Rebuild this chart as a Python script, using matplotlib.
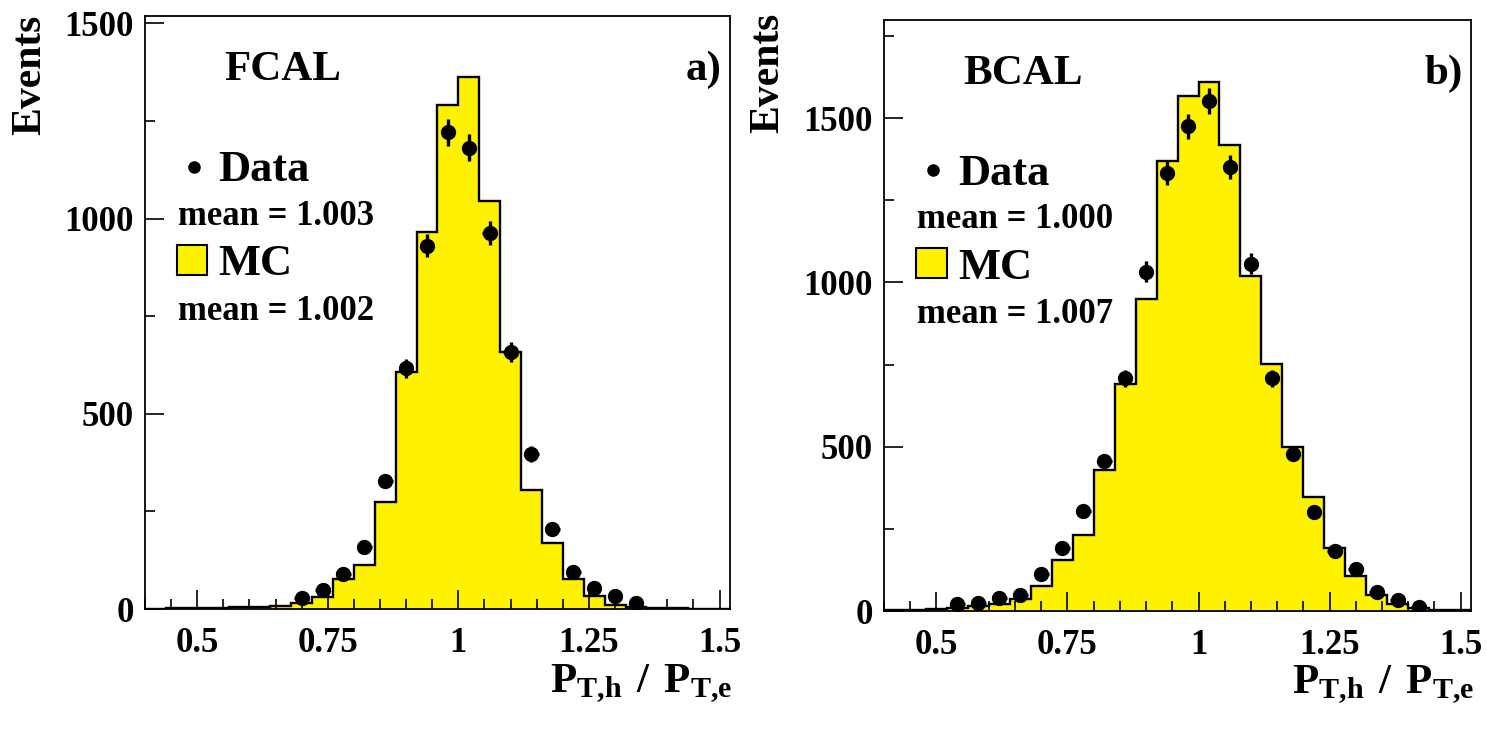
import numpy as np
import matplotlib
matplotlib.use('Agg')
import matplotlib.pyplot as plt
from matplotlib.patches import Rectangle
from matplotlib.ticker import MultipleLocator, FormatStrFormatter

plt.rcParams['font.family'] = 'Liberation Serif'
plt.rcParams['font.weight'] = 'bold'
plt.rcParams['mathtext.fontset'] = 'custom'
plt.rcParams['mathtext.bf'] = 'Liberation Serif:bold'
plt.rcParams['mathtext.rm'] = 'Liberation Serif:bold'

# binning: 28 bins of 0.04 from 0.40 to 1.52
bin_lo = 0.40
bin_w = 0.04
n_bins = 28

# FCAL (a)
fcal_mc = [1, 2, 2, 3, 4, 5, 8, 15, 31, 76, 113, 275, 607, 965,
           1290, 1362, 1045, 657, 305, 168, 78, 33, 10, 5, 3, 2, 1, 1]
fcal_data = [0, 0, 0, 0, 0, 0, 0, 28, 48, 90, 158, 328, 616, 931,
             1221, 1181, 963, 658, 397, 205, 95, 53, 33, 15, 0, 0, 0, 0]

# BCAL (b)
bcal_mc = [2, 4, 6, 10, 15, 22, 37, 77, 155, 230, 429, 692, 949, 1368,
           1567, 1610, 1418, 1019, 751, 499, 346, 193, 107, 48, 21, 8, 4, 2]
bcal_data = [0, 0, 0, 22, 25, 40, 48, 112, 193, 305, 455, 708, 1032, 1333,
             1475, 1551, 1352, 1057, 708, 477, 302, 182, 128, 58, 32, 12, 0, 0]

yellow = '#fff200'
edges = bin_lo + bin_w * np.arange(n_bins + 1)
centers = 0.5 * (edges[:-1] + edges[1:])

fig = plt.figure(figsize=(14.87, 7.32), dpi=100)
ax_a = fig.add_axes([0.0975, 0.168, 0.3934, 0.8108])
ax_b = fig.add_axes([0.5945, 0.1653, 0.3948, 0.808])


def panel(ax, mc, data, ymax, name, tag, mean_d, mean_mc):
    mc = np.array(mc, dtype=float)
    data = np.array(data, dtype=float)
    ax.stairs(mc, edges, fill=True, color=yellow, zorder=1)
    ax.stairs(mc, edges, color='black', lw=1.7, zorder=2)
    m = data > 0
    ax.errorbar(centers[m], data[m], yerr=np.sqrt(data[m]), xerr=0.014,
                fmt='o', ms=10, color='black', elinewidth=2.4, capsize=0, zorder=3)

    ax.set_xlim(0.40, 1.52)
    ax.set_ylim(0, ymax)
    ax.xaxis.set_major_locator(MultipleLocator(0.25))
    ax.xaxis.set_minor_locator(MultipleLocator(0.05))
    ax.xaxis.set_major_formatter(FormatStrFormatter('%g'))
    ax.yaxis.set_major_locator(MultipleLocator(500))
    ax.yaxis.set_minor_locator(MultipleLocator(250))
    ax.tick_params(which='both', direction='in', top=False, right=False, width=1.2)
    ax.tick_params(which='major', length=14, labelsize=25)
    ax.tick_params(which='minor', length=7)
    ax.tick_params(axis='x', which='major', pad=13)
    ax.tick_params(axis='y', which='major', pad=8)
    for s in ax.spines.values():
        s.set_linewidth(1.3)

    ax.text(0.135, 0.891, name, transform=ax.transAxes, fontsize=31)
    ax.text(0.985, 0.891, tag, transform=ax.transAxes, fontsize=31, ha='right')
    ax.plot([0.083], [0.745], 'o', color='black', ms=8, transform=ax.transAxes)
    ax.text(0.126, 0.721, 'Data', transform=ax.transAxes, fontsize=32)
    ax.text(0.057, 0.647, 'mean = ' + mean_d, transform=ax.transAxes, fontsize=25)
    ax.add_patch(Rectangle((0.0547, 0.563), 0.052, 0.05, transform=ax.transAxes,
                           facecolor=yellow, edgecolor='black', lw=1.5))
    ax.text(0.126, 0.562, 'MC', transform=ax.transAxes, fontsize=32)
    ax.text(0.057, 0.487, 'mean = ' + mean_mc, transform=ax.transAxes, fontsize=25)
    ax.text(1.005, -0.14, r'$\mathbf{P_{T{,}h}\ /\ P_{T{,}e}}$', transform=ax.transAxes,
            fontsize=31, ha='right', va='baseline')


panel(ax_a, fcal_mc, fcal_data, 1520, 'FCAL', 'a)', '1.003', '1.002')
panel(ax_b, bcal_mc, bcal_data, 1800, 'BCAL', 'b)', '1.000', '1.007')

fig.text(30 / 1487, 1 - 15 / 732, 'Events', rotation=90, ha='center', va='top', fontsize=30)
fig.text(768 / 1487, 1 - 13 / 732, 'Events', rotation=90, ha='center', va='top', fontsize=30)

fig.savefig('out.png', dpi=100)
